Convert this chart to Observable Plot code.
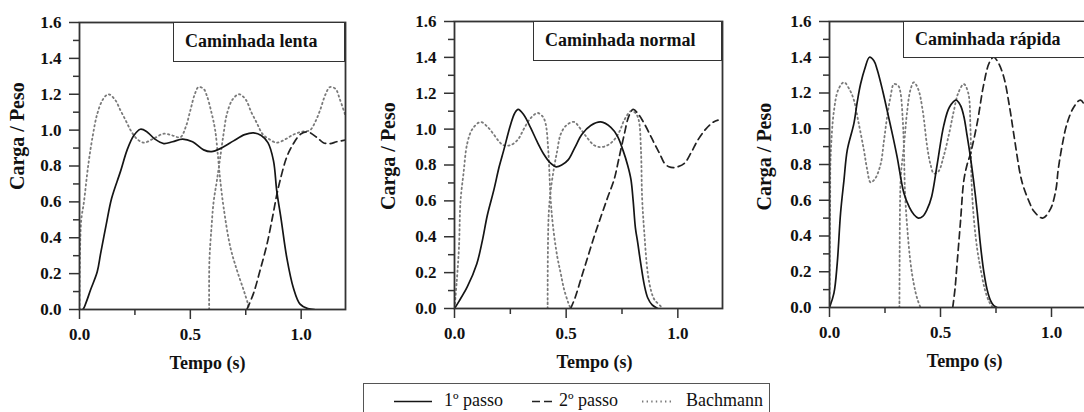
<!DOCTYPE html>
<html><head><meta charset="utf-8">
<script src="https://cdn.jsdelivr.net/npm/d3@7"></script>
<script src="https://cdn.jsdelivr.net/npm/@observablehq/plot@0.6"></script>
<style>
html,body{margin:0;padding:0;background:#fff;overflow:hidden;}
#wrap{position:relative;width:1084px;height:412px;overflow:hidden;font-family:'Liberation Serif','Times New Roman',serif;color:#111;}
.panel{position:absolute;top:0;}
.panel svg{max-width:none !important;}
.panel svg g[aria-label="y-axis tick label"], .panel svg g[aria-label="x-axis tick label"]{font-family:'Liberation Serif','Times New Roman',serif;font-size:17px;font-weight:bold;}
.title{position:absolute;box-sizing:border-box;border:1.5px solid #333;background:#fff;font-weight:bold;font-size:18px;padding-left:11px;white-space:nowrap;}
.legend{position:absolute;left:363px;top:383px;width:407px;height:44px;box-sizing:border-box;border:1.5px solid #555;background:#fff;}
.legend span{position:absolute;top:7px;font-size:18px;line-height:18px;white-space:nowrap;}
.legend svg{position:absolute;top:0;}
</style></head><body><div id="wrap"></div><script>
// ---- tick labels / categories ----
const yTicks = [0, 0.2, 0.4, 0.6, 0.8, 1.0, 1.2, 1.4, 1.6];
const yMinorTicks = [0.1, 0.3, 0.5, 0.7, 0.9, 1.1, 1.3, 1.5];
const xTicks = [0, 0.5, 1.0];
const xMinorTicks = [0.25, 0.75];
const panelTitles = ["Caminhada lenta", "Caminhada normal", "Caminhada rápida"];
const seriesNames = ["1º passo", "2º passo", "Bachmann"];
const xLabel = "Tempo (s)";
const yLabel = "Carga / Peso";

// ---- Caminhada lenta: [tempo, carga/peso] ----
const lentaPasso1 = [[0,0],[0.015,0],[0.03,0.04],[0.05,0.11],[0.08,0.21],[0.095,0.31],[0.12,0.47],[0.145,0.62],[0.185,0.77],[0.215,0.89],[0.245,0.97],[0.275,1.005],[0.305,0.99],[0.34,0.95],[0.38,0.925],[0.42,0.935],[0.465,0.95],[0.51,0.935],[0.56,0.89],[0.595,0.88],[0.64,0.9],[0.695,0.94],[0.745,0.975],[0.785,0.985],[0.82,0.97],[0.85,0.93],[0.875,0.83],[0.89,0.66],[0.91,0.5],[0.935,0.29],[0.965,0.12],[0.995,0.03],[1.03,0.005],[1.06,0]];
const lentaPasso2 = [[0.755,0],[0.785,0.09],[0.815,0.22],[0.845,0.36],[0.87,0.51],[0.89,0.64],[0.905,0.72],[0.935,0.85],[0.965,0.925],[1.0,0.98],[1.03,0.99],[1.07,0.96],[1.1,0.93],[1.13,0.925],[1.16,0.935],[1.2,0.945]];
const lentaBach1 = [[0,0],[0.002,0.3],[0.008,0.5],[0.02,0.6],[0.04,0.81],[0.06,0.97],[0.08,1.09],[0.105,1.17],[0.13,1.2],[0.16,1.17],[0.185,1.11],[0.21,1.05],[0.235,0.99],[0.26,0.95],[0.29,0.93],[0.33,0.95],[0.38,0.98],[0.42,0.97],[0.455,0.96],[0.48,1.02],[0.5,1.11],[0.52,1.2],[0.537,1.24],[0.56,1.23],[0.575,1.19],[0.595,1.1],[0.612,1.0],[0.625,0.85],[0.635,0.72],[0.65,0.57],[0.68,0.35],[0.71,0.22],[0.74,0.11],[0.76,0.03],[0.765,0]];
const lentaBach2 = [[0.585,0],[0.586,0.27],[0.595,0.45],[0.605,0.6],[0.62,0.72],[0.635,0.85],[0.65,0.98],[0.665,1.09],[0.69,1.17],[0.72,1.2],[0.75,1.17],[0.775,1.1],[0.8,1.04],[0.825,0.98],[0.855,0.95],[0.89,0.93],[0.93,0.95],[0.965,0.975],[1.0,0.99],[1.04,1.0],[1.065,1.05],[1.085,1.11],[1.11,1.2],[1.13,1.24],[1.155,1.23],[1.175,1.17],[1.2,1.08]];

// ---- Caminhada normal ----
const normalPasso1 = [[0,0],[0.02,0.04],[0.057,0.12],[0.1,0.25],[0.125,0.38],[0.147,0.52],[0.176,0.66],[0.2,0.79],[0.22,0.88],[0.25,1.02],[0.27,1.09],[0.285,1.11],[0.31,1.08],[0.34,1.01],[0.37,0.93],[0.4,0.86],[0.43,0.81],[0.455,0.79],[0.48,0.8],[0.51,0.83],[0.54,0.9],[0.57,0.97],[0.61,1.02],[0.655,1.04],[0.7,1.01],[0.73,0.96],[0.755,0.88],[0.775,0.8],[0.79,0.72],[0.8,0.6],[0.81,0.45],[0.82,0.37],[0.834,0.25],[0.85,0.13],[0.865,0.06],[0.885,0.02],[0.91,0]];
const normalPasso2 = [[0.52,0],[0.54,0.06],[0.565,0.16],[0.595,0.28],[0.625,0.4],[0.655,0.51],[0.686,0.62],[0.715,0.72],[0.735,0.83],[0.76,0.97],[0.78,1.07],[0.8,1.11],[0.825,1.08],[0.85,1.03],[0.875,0.97],[0.895,0.92],[0.92,0.86],[0.94,0.81],[0.96,0.79],[0.98,0.785],[1.0,0.79],[1.03,0.81],[1.06,0.87],[1.09,0.94],[1.125,1.0],[1.16,1.04],[1.18,1.05]];
const normalBach1 = [[0,0],[0.01,0.15],[0.02,0.34],[0.027,0.6],[0.04,0.75],[0.057,0.92],[0.08,1.0],[0.117,1.04],[0.15,1.01],[0.176,0.97],[0.2,0.93],[0.22,0.91],[0.25,0.91],[0.283,0.94],[0.31,1.0],[0.34,1.06],[0.372,1.09],[0.395,1.07],[0.408,1.03],[0.42,0.88],[0.43,0.62],[0.44,0.47],[0.46,0.29],[0.475,0.2],[0.49,0.11],[0.51,0.03],[0.52,0]];
const normalBach2 = [[0.417,0],[0.418,0.3],[0.422,0.53],[0.43,0.65],[0.445,0.78],[0.46,0.88],[0.475,0.97],[0.5,1.02],[0.535,1.04],[0.565,1.0],[0.595,0.95],[0.625,0.91],[0.655,0.9],[0.685,0.91],[0.715,0.94],[0.74,0.99],[0.76,1.05],[0.79,1.1],[0.81,1.09],[0.825,1.05],[0.835,0.88],[0.84,0.62],[0.85,0.42],[0.865,0.2],[0.88,0.1],[0.895,0.05],[0.925,0.01],[0.93,0]];

// ---- Caminhada rápida ----
const rapidaPasso1 = [[0,0],[0.02,0.08],[0.035,0.25],[0.05,0.53],[0.065,0.71],[0.08,0.88],[0.11,1.03],[0.125,1.15],[0.14,1.25],[0.16,1.34],[0.18,1.4],[0.2,1.38],[0.215,1.33],[0.24,1.21],[0.26,1.1],[0.285,0.96],[0.305,0.84],[0.335,0.64],[0.36,0.56],[0.38,0.52],[0.4,0.5],[0.42,0.51],[0.44,0.55],[0.46,0.62],[0.485,0.8],[0.515,1.02],[0.54,1.12],[0.57,1.16],[0.59,1.13],[0.605,1.07],[0.62,0.96],[0.635,0.84],[0.65,0.7],[0.665,0.54],[0.68,0.35],[0.695,0.2],[0.71,0.1],[0.725,0.04],[0.74,0.01],[0.755,0]];
const rapidaPasso2 = [[0.555,0],[0.565,0.1],[0.575,0.25],[0.59,0.48],[0.605,0.71],[0.62,0.8],[0.635,0.86],[0.665,1.03],[0.695,1.25],[0.72,1.37],[0.74,1.4],[0.76,1.37],[0.785,1.29],[0.81,1.13],[0.83,0.97],[0.86,0.74],[0.875,0.67],[0.9,0.59],[0.92,0.54],[0.96,0.5],[0.995,0.55],[1.02,0.66],[1.03,0.77],[1.05,0.92],[1.07,1.03],[1.1,1.12],[1.13,1.16],[1.16,1.1],[1.18,1.0]];
const rapidaBach1 = [[0,0],[0.001,0.3],[0.003,0.6],[0.005,0.84],[0.02,1.1],[0.04,1.22],[0.065,1.26],[0.09,1.22],[0.11,1.16],[0.13,1.04],[0.155,0.88],[0.17,0.77],[0.185,0.7],[0.205,0.72],[0.23,0.8],[0.245,0.93],[0.26,1.07],[0.275,1.18],[0.29,1.25],[0.31,1.24],[0.32,1.2],[0.33,1.05],[0.335,0.9],[0.34,0.65],[0.35,0.45],[0.365,0.25],[0.38,0.13],[0.395,0.05],[0.41,0]];
const rapidaBach2 = [[0.315,0],[0.316,0.3],[0.318,0.6],[0.322,0.75],[0.335,0.9],[0.35,1.1],[0.365,1.22],[0.38,1.26],[0.4,1.22],[0.42,1.1],[0.44,0.9],[0.455,0.8],[0.47,0.75],[0.49,0.76],[0.515,0.85],[0.54,0.98],[0.56,1.1],[0.58,1.2],[0.605,1.25],[0.625,1.2],[0.635,1.0],[0.64,0.7],[0.65,0.5],[0.665,0.33],[0.68,0.22],[0.7,0.1],[0.72,0.03],[0.735,0]];

const panelSeries = [
  [lentaPasso1, lentaPasso2, lentaBach1, lentaBach2],
  [normalPasso1, normalPasso2, normalBach1, normalBach2],
  [rapidaPasso1, rapidaPasso2, rapidaBach1, rapidaBach2]
];

// ---- layout (not data) ----
const layout = [
  {left: 0,   width: 360, ml: 79, mr: 15,  mt: 22, mb: 71, ylabDx: -62, ylabDy: 24, xlabDx: -5, box: {l: 173, t: 22, w: 172, h: 40}},
  {left: 360, width: 372, ml: 94, mr: 10,  mt: 21, mb: 72, ylabDx: -66, ylabDy: 45, xlabDx: 6,  box: {l: 533, t: 21, w: 189, h: 40}},
  {left: 730, width: 375, ml: 99, mr: 9.6, mt: 21, mb: 73, ylabDx: -65, ylabDy: 46, xlabDx: 2,  box: {l: 903, t: 21, w: 200, h: 37}}
];

const styles = {
  "1º passo": {stroke: "#151515", strokeWidth: 1.7, strokeDasharray: null},
  "2º passo": {stroke: "#222", strokeWidth: 1.7, strokeDasharray: "7,4.5"},
  "Bachmann": {stroke: "#7a7a7a", strokeWidth: 1.8, strokeDasharray: "1.4,3.2"}
};
const fontFam = "'Liberation Serif','Times New Roman',serif";

const wrap = document.getElementById("wrap");

panelSeries.forEach((series, i) => {
  const L = layout[i];
  const rows = [];
  const keys = [["1º passo","a"],["2º passo","b"],["Bachmann","c"],["Bachmann","d"]];
  series.forEach((arr, j) => arr.forEach(([t, v]) => rows.push({t, v, s: keys[j][0], k: keys[j][1]})));
  const lineFor = (name) => Plot.line(rows.filter(r => r.s === name), {
    x: "t", y: "v", z: "k", curve: "catmull-rom", clip: true,
    stroke: styles[name].stroke, strokeWidth: styles[name].strokeWidth,
    strokeDasharray: styles[name].strokeDasharray
  });
  const axisText = {fontSize: 17, fontWeight: "bold", fontFamily: fontFam, fill: "#111"};
  const chart = Plot.plot({
    width: L.width, height: 380,
    marginLeft: L.ml, marginRight: L.mr, marginTop: L.mt, marginBottom: L.mb,
    x: {domain: [0, 1.2]},
    y: {domain: [0, 1.6]},
    style: {fontFamily: fontFam, fontSize: "17px", fontWeight: "bold", color: "#111", background: "transparent", overflow: "visible", maxWidth: "none"},
    marks: [
      lineFor("Bachmann"),
      lineFor("2º passo"),
      lineFor("1º passo"),
      Plot.axisY(yTicks, {tickSize: 10, tickPadding: 8, tickFormat: d => d.toFixed(1), label: null, strokeWidth: 1.5, stroke: "#333", ...axisText}),
      Plot.axisY(yMinorTicks, {tickSize: 6, tickFormat: () => "", label: null, strokeWidth: 1.5, stroke: "#333"}),
      Plot.axisX(xTicks, {tickSize: 10, tickPadding: 8, tickFormat: d => d.toFixed(1), label: null, strokeWidth: 1.5, stroke: "#333", ...axisText}),
      Plot.axisX(xMinorTicks, {tickSize: 6, tickFormat: () => "", label: null, strokeWidth: 1.5, stroke: "#333"}),
      Plot.frame({stroke: "#333", strokeWidth: 1.8}),
      Plot.text([xLabel], {frameAnchor: "bottom", dy: 59, dx: L.xlabDx, fontSize: 18, fontWeight: "bold", fontFamily: fontFam, fill: "#111"}),
      Plot.text([yLabel], {frameAnchor: "left", dx: L.ylabDx, dy: L.ylabDy, rotate: -90, fontSize: 20, fontWeight: "bold", fontFamily: fontFam, fill: "#111"})
    ]
  });
  const holder = document.createElement("div");
  holder.className = "panel";
  holder.style.left = L.left + "px";
  holder.style.width = L.width + "px";
  holder.appendChild(chart);
  wrap.appendChild(holder);

  const box = document.createElement("div");
  box.className = "title";
  box.style.left = L.box.l + "px";
  box.style.top = L.box.t + "px";
  box.style.width = L.box.w + "px";
  box.style.height = L.box.h + "px";
  box.style.lineHeight = (L.box.h - 3) + "px";
  box.textContent = panelTitles[i];
  wrap.appendChild(box);
});

// ---- legend ----
const legend = document.createElement("div");
legend.className = "legend";
const legendPos = [{sw: 29, sl: 38, tx: 80}, {sw: 167, sl: 20, tx: 195}, {sw: 277, sl: 30, tx: 322}];
seriesNames.forEach((name, i) => {
  const p = legendPos[i];
  const svg = d3.create("svg").attr("width", p.sl + 2).attr("height", 40).style("left", p.sw + "px");
  svg.append("line").attr("x1", 1).attr("x2", p.sl + 1).attr("y1", 17.5).attr("y2", 17.5)
    .attr("stroke", styles[name].stroke).attr("stroke-width", styles[name].strokeWidth)
    .attr("stroke-dasharray", name === "2º passo" ? "8,4" : styles[name].strokeDasharray);
  legend.appendChild(svg.node());
  const sp = document.createElement("span");
  sp.style.left = p.tx + "px";
  sp.textContent = name;
  legend.appendChild(sp);
});
wrap.appendChild(legend);
</script></body></html>
